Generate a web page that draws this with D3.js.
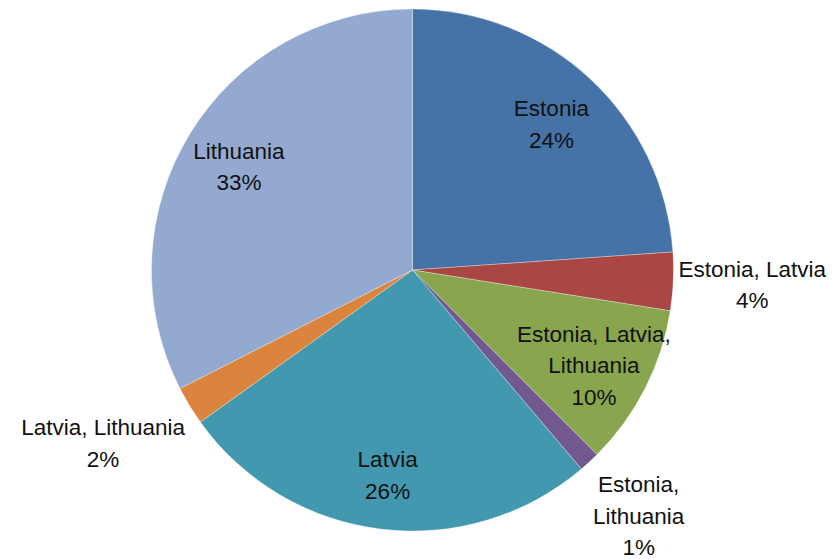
<!DOCTYPE html>
<html>
<head>
<meta charset="utf-8">
<script src="https://cdn.jsdelivr.net/npm/d3@7"></script>
<style>
  body { margin: 0; background: #fff; }
  text { font-family: "Liberation Sans", Arial, sans-serif; font-size: 22.5px; fill: #111; }
</style>
</head>
<body>
<div id="chart"></div>
<script>
const categories = ['Estonia', 'Estonia, Latvia', 'Estonia, Latvia, Lithuania', 'Estonia, Lithuania',
                    'Latvia', 'Latvia, Lithuania', 'Lithuania'];
const values = [23.9, 3.6, 10.0, 1.3, 26.3, 2.4, 32.5];
const labelLines = [['Estonia'], ['Estonia, Latvia'], ['Estonia, Latvia,', 'Lithuania'], ['Estonia,', 'Lithuania'],
                    ['Latvia'], ['Latvia, Lithuania'], ['Lithuania']];
const outside = [false, true, false, true, false, true, false];
const colors = ['#4572A7', '#AA4643', '#89A54E', '#71588F', '#4198AF', '#DB843D', '#93A9CF'];

const width = 834, height = 559;
const cx = 412.5, cy = 270, radius = 261;
const lineH = 31.5;

const svg = d3.select('#chart').append('svg')
    .attr('width', width)
    .attr('height', height);

const g = svg.append('g').attr('transform', `translate(${cx},${cy})`);

const data = categories.map((c, i) => ({name: c, value: values[i], lines: labelLines[i], out: outside[i], color: colors[i]}));

const pie = d3.pie().sort(null).value(d => d.value);
const arc = d3.arc().innerRadius(0).outerRadius(radius);
const arcs = pie(data);

g.selectAll('path')
    .data(arcs)
    .enter()
    .append('path')
        .attr('d', arc)
        .attr('fill', d => d.data.color)
        .attr('stroke', '#fff')
        .attr('stroke-opacity', 0.5)
        .attr('stroke-width', 0.6);

// labels
arcs.forEach(d => {
    const mid = (d.startAngle + d.endAngle) / 2;
    const lines = d.data.lines.concat([Math.round(d.data.value) + '%']);
    const label = g.append('g');
    const txt = label.append('text').attr('text-anchor', 'middle');
    lines.forEach((l, i) => {
        txt.append('tspan').attr('x', 0).attr('y', i * lineH).text(l);
    });
    const bb = txt.node().getBBox();
    const boxH = lines.length * lineH;
    let x, y;
    if (!d.data.out) {
        const r = radius * 0.78;
        x = Math.sin(mid) * r;
        y = -Math.cos(mid) * r - boxH / 2;
    } else {
        const r = radius + 5;
        const px = Math.sin(mid) * r, py = -Math.cos(mid) * r;
        x = Math.sin(mid) > 0 ? px + bb.width / 2 : px - bb.width / 2;
        if (Math.abs(Math.cos(mid)) < 0.3) y = py - boxH / 2;
        else if (Math.cos(mid) < 0) y = py;
        else y = py - boxH;
    }
    label.attr('transform', `translate(${x},${y + lineH * 0.85})`);
});
</script>
</body>
</html>
